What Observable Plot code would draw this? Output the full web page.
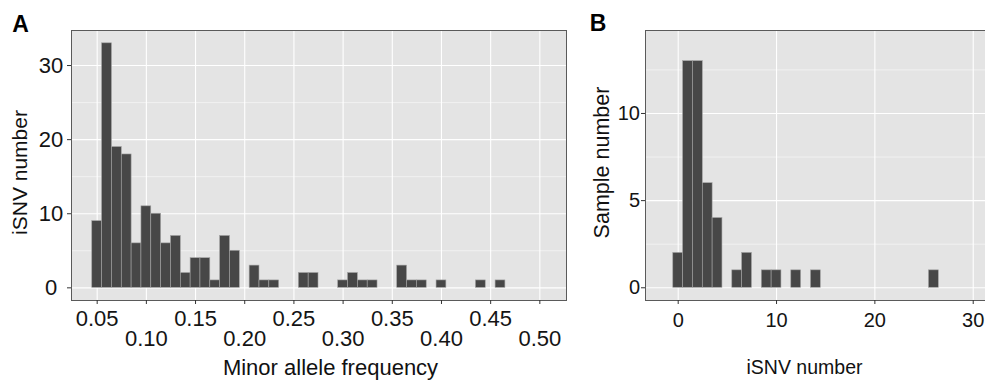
<!DOCTYPE html>
<html><head><meta charset="utf-8">
<script src="https://cdn.jsdelivr.net/npm/d3@7"></script>
<script src="https://cdn.jsdelivr.net/npm/@observablehq/plot@0.6"></script>
<style>
html,body{margin:0;padding:0;background:#fff;}
#wrap{display:flex;width:985px;height:380px;overflow:hidden;}
#wrap svg{display:block;flex:none;}
</style></head><body><div id="wrap"></div>
<script>
// Panel A: minor allele frequency histogram (bin centers, counts)
const mafBins   = [0.05,0.06,0.07,0.08,0.09,0.10,0.11,0.12,0.13,0.14,0.15,0.16,0.17,0.18,0.19,0.21,0.22,0.23,0.26,0.27,0.30,0.31,0.32,0.33,0.36,0.37,0.38,0.40,0.44,0.46];
const mafCounts = [9,   33,  19,  18,  6,   11,  10,  6,   7,   2,   4,   4,   1,   7,   5,   3,   1,   1,   2,   2,   1,   2,   1,   1,   3,   1,   1,   1,   1,   1];
const mafBinWidth = 0.01;
const mafTicksUpper = [0.05,0.15,0.25,0.35,0.45];
const mafTicksLower = [0.10,0.20,0.30,0.40,0.50];
const isnvCountTicks = [0,10,20,30];
const isnvCountMinor = [5,15,25];

// Panel B: iSNV number per sample histogram
const isnvBins     = [0,1,2,3,4,6,7,9,10,12,14,26];
const sampleCounts = [2,13,13,6,4,1,2,1,1,1,1,1];
const isnvBinWidth = 1;
const isnvTicks = [0,10,20,30];
const sampleTicks = [0,5,10];
const sampleMinor = [2.5,7.5,12.5];

const FONT = "'Liberation Sans', Arial, Helvetica, sans-serif";
const BG = "#e4e4e4", BAR = "#474747", BAROUT = "#a3a3a3", BORDER = "#5a5a5a";
const TICKC = "#333", TEXTC = "#141414";

const dataA = mafBins.map((x, i) => ({x0: x - mafBinWidth/2, x1: x + mafBinWidth/2, n: mafCounts[i]}));
const dataB = isnvBins.map((x, i) => ({x0: x - isnvBinWidth/2, x1: x + isnvBinWidth/2, n: sampleCounts[i]}));

const plotA = Plot.plot({
  width: 580, height: 380,
  marginLeft: 71, marginRight: 14, marginTop: 30, marginBottom: 80,
  style: {fontFamily: FONT, background: "#fff"},
  x: {domain: [0.0239, 0.5271]},
  y: {domain: [-1.71, 34.73]},
  marks: [
    Plot.frame({fill: BG}),
    Plot.gridY(isnvCountMinor, {stroke: "#fff", strokeOpacity: 0.85, strokeWidth: 0.6}),
    Plot.gridY(isnvCountTicks, {stroke: "#fff", strokeOpacity: 1, strokeWidth: 1.1}),
    Plot.gridX([...mafTicksUpper, ...mafTicksLower], {stroke: "#fff", strokeOpacity: 1, strokeWidth: 1.1}),
    Plot.rect(dataA, {x1: "x0", x2: "x1", y1: 0, y2: "n", fill: BAR, stroke: BAROUT, strokeWidth: 0.6, inset: 0}),
    Plot.frame({stroke: BORDER, strokeWidth: 1}),
    Plot.axisY(isnvCountTicks, {tickSize: 4, tickPadding: 16.5, textAnchor: "middle", fontSize: 22, stroke: TICKC, fill: TEXTC, label: null}),
    Plot.axisX(mafTicksUpper, {tickSize: 4, tickPadding: 5.4, fontSize: 22, stroke: TICKC, fill: TEXTC, label: null, tickFormat: d3.format(".2f")}),
    Plot.axisX(mafTicksLower, {tickSize: 4, tickPadding: 25.4, fontSize: 22, stroke: TICKC, fill: TEXTC, label: null, tickFormat: d3.format(".2f")}),
    Plot.text(["Minor allele frequency"], {frameAnchor: "bottom", text: d => d, textAnchor: "middle", lineAnchor: "bottom", dx: 11.5, dy: 74, fontSize: 22, fill: "#111"}),
    Plot.text(["iSNV number"], {frameAnchor: "left", text: d => d, rotate: -90, textAnchor: "middle", lineAnchor: "middle", dx: -51.5, dy: 7, fontSize: 21, fill: "#111"}),
    Plot.text(["A"], {frameAnchor: "top-left", text: d => d, textAnchor: "start", lineAnchor: "bottom", dx: -59.3, dy: 1.7, fontSize: 23, fontWeight: "bold", fill: "#000"})
  ]
});

const plotB = Plot.plot({
  width: 405, height: 380,
  marginLeft: 65, marginRight: 0, marginTop: 30, marginBottom: 80,
  style: {fontFamily: FONT, background: "#fff"},
  x: {domain: [-3.325, 31.25]},
  y: {domain: [-0.73, 14.76]},
  marks: [
    Plot.frame({fill: BG}),
    Plot.gridY(sampleMinor, {stroke: "#fff", strokeOpacity: 0.85, strokeWidth: 0.6}),
    Plot.gridY(sampleTicks, {stroke: "#fff", strokeOpacity: 1, strokeWidth: 1.1}),
    Plot.gridX(isnvTicks, {stroke: "#fff", strokeOpacity: 1, strokeWidth: 1.1}),
    Plot.rect(dataB, {x1: "x0", x2: "x1", y1: 0, y2: "n", fill: BAR, stroke: BAROUT, strokeWidth: 0.6, inset: 0}),
    Plot.frame({stroke: BORDER, strokeWidth: 1}),
    Plot.axisY(sampleTicks, {tickSize: 4, tickPadding: 1.5, fontSize: 20, stroke: TICKC, fill: TEXTC, label: null}),
    Plot.axisX(isnvTicks, {tickSize: 4, tickPadding: 8.5, fontSize: 20, stroke: TICKC, fill: TEXTC, label: null}),
    Plot.text(["iSNV number"], {frameAnchor: "bottom", text: d => d, textAnchor: "middle", lineAnchor: "bottom", dx: -11, dy: 73, fontSize: 19.5, fill: "#111"}),
    Plot.text(["Sample number"], {frameAnchor: "left", text: d => d, rotate: -90, textAnchor: "middle", lineAnchor: "middle", dx: -43.5, dy: -3, fontSize: 21.5, fill: "#111"}),
    Plot.text(["B"], {frameAnchor: "top-left", text: d => d, textAnchor: "start", lineAnchor: "bottom", dx: -55.7, dy: 0.7, fontSize: 23, fontWeight: "bold", fill: "#000"})
  ]
});

const wrap = document.getElementById("wrap");
wrap.appendChild(plotA);
wrap.appendChild(plotB);
</script>
</body></html>
